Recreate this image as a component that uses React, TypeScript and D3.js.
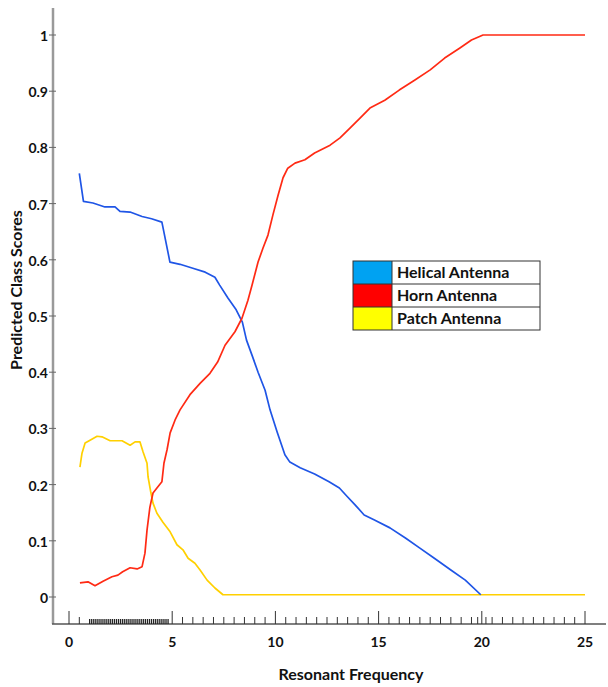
import React, { useEffect, useRef } from 'react';
import * as d3 from 'd3';

// Values
const helicalX = [0.5, 0.7, 1.16, 1.74, 2.23, 2.47, 2.96, 3.54, 4.0, 4.5, 4.55, 4.89, 5.38, 6.0, 6.6, 7.07, 7.3, 7.7, 8.1, 8.4, 8.6, 8.87, 9.16, 9.5, 9.74, 10.08, 10.46, 10.7, 11.2, 11.9, 12.6, 13.1, 13.5, 13.86, 14.3, 14.8, 15.55, 16.3, 17.0, 17.7, 18.5, 19.2, 19.95];
const helicalY = [0.754, 0.704, 0.701, 0.694, 0.694, 0.686, 0.685, 0.677, 0.673, 0.667, 0.658, 0.596, 0.592, 0.585, 0.578, 0.569, 0.555, 0.532, 0.511, 0.489, 0.457, 0.43, 0.4, 0.368, 0.333, 0.294, 0.253, 0.24, 0.23, 0.219, 0.205, 0.194, 0.178, 0.164, 0.146, 0.137, 0.123, 0.105, 0.087, 0.069, 0.048, 0.03, 0.004];

const hornX = [0.53, 0.92, 1.26, 1.65, 2.08, 2.37, 2.6, 2.96, 3.3, 3.54, 3.68, 3.78, 3.92, 4.07, 4.26, 4.5, 4.6, 4.75, 4.9, 5.14, 5.38, 5.86, 6.35, 6.83, 7.2, 7.56, 8.04, 8.38, 8.67, 8.87, 9.16, 9.4, 9.64, 9.88, 10.13, 10.37, 10.6, 10.95, 11.43, 11.9, 12.65, 13.13, 13.6, 14.1, 14.58, 15.3, 16.0, 16.76, 17.5, 18.2, 18.94, 19.5, 20.06, 25];
const hornY = [0.025, 0.027, 0.02, 0.028, 0.036, 0.039, 0.045, 0.052, 0.05, 0.054, 0.078, 0.119, 0.16, 0.185, 0.194, 0.205, 0.238, 0.262, 0.292, 0.315, 0.333, 0.36, 0.38, 0.398, 0.418, 0.448, 0.472, 0.496, 0.528, 0.555, 0.596, 0.621, 0.644, 0.68, 0.715, 0.746, 0.763, 0.772, 0.778, 0.79, 0.804, 0.817, 0.834, 0.852, 0.87, 0.884, 0.902, 0.92, 0.938, 0.959, 0.977, 0.991, 1.0, 1.0];

const patchX = [0.53, 0.63, 0.78, 1.02, 1.36, 1.6, 1.99, 2.57, 2.96, 3.2, 3.44, 3.59, 3.78, 3.83, 3.97, 4.07, 4.26, 4.55, 4.9, 5.23, 5.52, 5.77, 6.1, 6.35, 6.69, 7.07, 7.46, 25];
const patchY = [0.231, 0.256, 0.274, 0.279, 0.286, 0.285, 0.278, 0.278, 0.27, 0.276, 0.276, 0.258, 0.238, 0.214, 0.185, 0.167, 0.149, 0.133, 0.116, 0.093, 0.084, 0.069, 0.06, 0.048, 0.03, 0.016, 0.004, 0.004];

const xTicks = [0, 5, 10, 15, 20, 25];
const yTicks = [0, 0.1, 0.2, 0.3, 0.4, 0.5, 0.6, 0.7, 0.8, 0.9, 1];
const minorTicks = [0.5, 5.5, 6, 6.5, 7, 7.5, 8, 8.5, 9, 9.5, 10.5, 11, 11.5, 12, 12.5, 13, 13.5, 14, 14.5, 15.5, 16, 16.5, 17, 17.5, 18, 18.5, 19, 19.5, 19.8, 20.2, 20.5, 21, 21.5, 22, 22.5, 23, 23.5, 24, 24.5];
const rugX = [1.0, 1.1, 1.2, 1.3, 1.4, 1.5, 1.6, 1.7, 1.8, 1.9, 2.0, 2.1, 2.2, 2.3, 2.4, 2.5, 2.6, 2.7, 2.8, 2.9, 3.0, 3.1, 3.2, 3.3, 3.4, 3.5, 3.6, 3.7, 3.8, 3.9, 4.0, 4.1, 4.2, 4.3, 4.4, 4.5, 4.6, 4.7, 4.8];

const seriesNames = ['Helical Antenna', 'Horn Antenna', 'Patch Antenna'];
const lineColors = ['#1f55e6', '#ff2a14', '#ffd000'];
const swatchColors = ['#00a2f2', '#ff0000', '#ffff00'];

const FONT = 'Lato, "Open Sans", sans-serif';

export default function App() {
  const svgRef = useRef<SVGSVGElement>(null);

  useEffect(() => {
    if (!svgRef.current) return;
    const svg = d3.select(svgRef.current);
    svg.selectAll('*').remove();

    const x = d3.scaleLinear().domain([0, 25]).range([69, 585]);
    const y = d3.scaleLinear().domain([0, 1]).range([597, 35]);
    const axisY = 624;
    const axisX = 53;

    // series lines
    const series = [
      helicalX.map((v, i) => [v, helicalY[i]]),
      hornX.map((v, i) => [v, hornY[i]]),
      patchX.map((v, i) => [v, patchY[i]]),
    ];
    const line = d3.line<number[]>().x(d => x(d[0])).y(d => y(d[1]));
    // patch first, then helical, then horn on top
    [2, 0, 1].forEach(i => {
      svg.append('path')
        .attr('d', line(series[i]))
        .attr('fill', 'none')
        .attr('stroke', lineColors[i])
        .attr('stroke-width', 1.7)
        .attr('stroke-linejoin', 'round');
    });

    // y axis
    svg.append('line')
      .attr('x1', axisX).attr('x2', axisX)
      .attr('y1', 8).attr('y2', axisY)
      .attr('stroke', '#9a9a9a').attr('stroke-width', 2.5);
    yTicks.forEach(t => {
      svg.append('line')
        .attr('x1', axisX - 4).attr('x2', axisX + 3)
        .attr('y1', y(t)).attr('y2', y(t))
        .attr('stroke', '#666').attr('stroke-width', 1);
      svg.append('text')
        .attr('x', 48).attr('y', y(t) + 6)
        .attr('text-anchor', 'end')
        .style('font-family', FONT).style('font-weight', 'bold').style('font-size', '14px')
        .attr('fill', '#111')
        .text(d3.format('~g')(t));
    });

    // x axis
    svg.append('line')
      .attr('x1', axisX - 1).attr('x2', 606)
      .attr('y1', axisY).attr('y2', axisY)
      .attr('stroke', '#555').attr('stroke-width', 1.5);
    xTicks.forEach(t => {
      svg.append('line')
        .attr('x1', x(t)).attr('x2', x(t))
        .attr('y1', axisY).attr('y2', axisY - 13)
        .attr('stroke', '#333').attr('stroke-width', 1);
      svg.append('text')
        .attr('x', x(t)).attr('y', 647)
        .attr('text-anchor', 'middle')
        .style('font-family', FONT).style('font-weight', 'bold').style('font-size', '14px')
        .attr('fill', '#111')
        .text(t);
    });
    minorTicks.forEach(t => {
      svg.append('line')
        .attr('x1', x(t)).attr('x2', x(t))
        .attr('y1', axisY).attr('y2', axisY - 7)
        .attr('stroke', '#333').attr('stroke-width', 1);
    });
    rugX.forEach(t => {
      svg.append('line')
        .attr('x1', x(t)).attr('x2', x(t))
        .attr('y1', axisY).attr('y2', axisY - 5)
        .attr('stroke', '#222').attr('stroke-width', 1.3);
    });

    // axis titles
    svg.append('text')
      .attr('x', 351).attr('y', 680)
      .attr('text-anchor', 'middle')
      .style('font-family', FONT).style('font-weight', 'bold').style('font-size', '16px')
      .attr('fill', '#111')
      .text('Resonant Frequency');
    svg.append('text')
      .attr('transform', 'translate(22,290) rotate(-90)')
      .attr('text-anchor', 'middle')
      .style('font-family', FONT).style('font-weight', 'bold').style('font-size', '16px')
      .attr('fill', '#111')
      .text('Predicted Class Scores');

    // legend
    const lg = svg.append('g').attr('transform', 'translate(353,261)');
    const rowH = 23;
    seriesNames.forEach((name, i) => {
      lg.append('rect')
        .attr('x', 0).attr('y', i * rowH)
        .attr('width', 39).attr('height', rowH)
        .attr('fill', swatchColors[i]);
      lg.append('text')
        .attr('x', 44).attr('y', i * rowH + 17)
        .style('font-family', FONT).style('font-weight', 'bold').style('font-size', '16px')
        .attr('fill', '#111')
        .text(name);
      if (i > 0) {
        lg.append('line')
          .attr('x1', 0).attr('x2', 187)
          .attr('y1', i * rowH).attr('y2', i * rowH)
          .attr('stroke', '#333').attr('stroke-width', 1);
      }
    });
    lg.append('line')
      .attr('x1', 39).attr('x2', 39).attr('y1', 0).attr('y2', rowH * 3)
      .attr('stroke', '#333').attr('stroke-width', 1);
    lg.append('rect')
      .attr('x', 0).attr('y', 0)
      .attr('width', 187).attr('height', rowH * 3)
      .attr('fill', 'none').attr('stroke', '#333').attr('stroke-width', 1);
  }, []);

  return (
    <svg
      ref={svgRef}
      width={608}
      height={687}
      style={{ position: 'absolute', left: 0, top: 0, background: '#fff' }}
    />
  );
}
